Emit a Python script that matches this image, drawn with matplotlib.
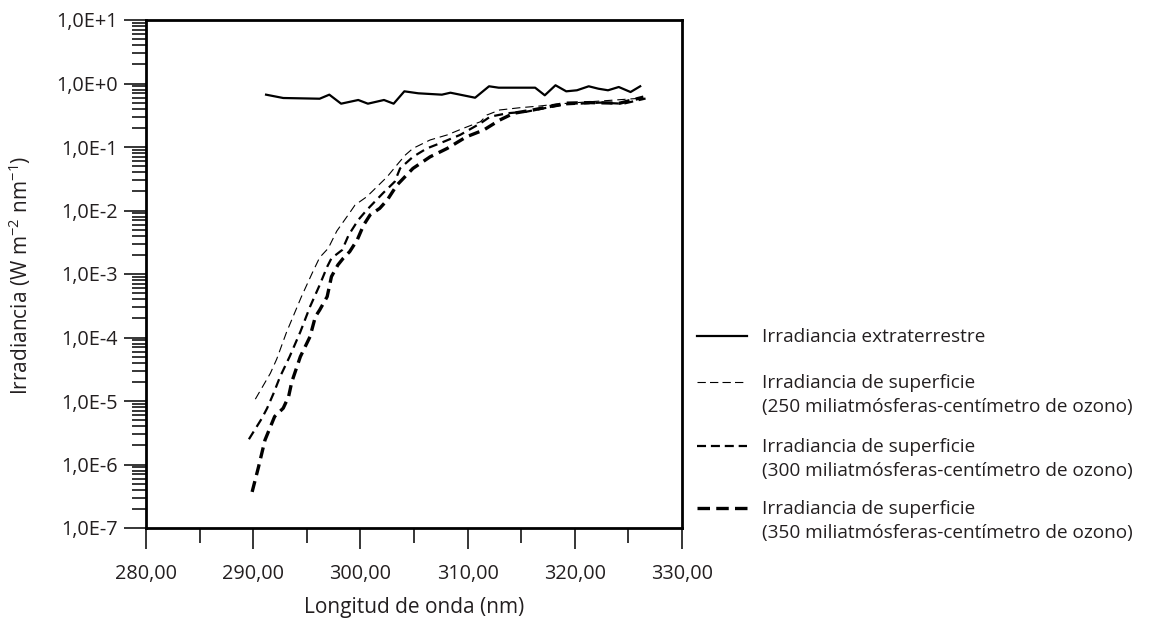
import math
import matplotlib
matplotlib.use("Agg")
import matplotlib.pyplot as plt
from matplotlib.lines import Line2D
from matplotlib.ticker import FixedLocator, FuncFormatter, LogLocator, NullFormatter

# Spectral irradiance data (wavelength in nm, irradiance in W m-2 nm-1)
wl_extra = [291.2, 292.8, 296.2, 297.1, 298.2, 299.8, 300.7, 302.2, 303.1, 304.1,
            305.4, 307.6, 308.4, 310.7, 312.0, 312.9, 316.3, 317.2, 318.2, 319.2,
            320.2, 321.3, 322.2, 323.1, 324.1, 325.2, 326.1]
irr_extra = [0.667, 0.591, 0.576, 0.667, 0.481, 0.550, 0.481, 0.550, 0.481, 0.753,
             0.701, 0.667, 0.716, 0.597, 0.904, 0.859, 0.859, 0.652, 0.938, 0.753,
             0.782, 0.904, 0.828, 0.782, 0.881, 0.734, 0.904]

wl_250 = [290.2, 291.6, 292.2, 293.1, 294.5, 295.5, 296.2, 297.0, 297.8, 299.0,
          299.5, 300.6, 302.5, 303.4, 304.2, 304.9, 306.5, 308.1, 309.6, 311.2,
          311.8, 313.0, 314.9, 316.8, 318.3, 322.4, 326.4]
irr_250 = [1.07e-5, 2.73e-5, 4.6e-5, 1.2e-4, 4.4e-4, 1.03e-3, 1.82e-3, 2.54e-3, 4.75e-3, 9.2e-3,
           1.22e-2, 1.65e-2, 3.4e-2, 5.2e-2, 7.5e-2, 9.5e-2, 0.129, 0.155, 0.197, 0.250,
           0.319, 0.383, 0.416, 0.443, 0.475, 0.53, 0.59]

wl_300 = [289.6, 290.8, 291.3, 291.9, 292.5, 293.4, 294.4, 295.3, 296.2, 296.9,
          297.3, 298.3, 298.9, 299.8, 300.6, 302.1, 303.2, 303.7, 304.9, 306.2,
          307.4, 309.3, 311.2, 312.1, 313.7, 315.5, 317.4, 319.2, 322.4, 324.5, 326.6]
irr_300 = [2.5e-6, 5.3e-6, 7.7e-6, 1.32e-5, 2.4e-5, 5.0e-5, 1.23e-4, 3.05e-4, 6.7e-4, 1.30e-3,
           1.77e-3, 2.39e-3, 4.1e-3, 7.1e-3, 1.02e-2, 1.87e-2, 2.84e-2, 4.6e-2, 7.0e-2, 9.5e-2,
           0.114, 0.155, 0.236, 0.300, 0.340, 0.360, 0.416, 0.47, 0.50, 0.48, 0.58]

wl_350 = [289.9, 290.5, 291.1, 292.0, 292.8, 293.3, 293.6, 294.4, 295.3, 295.8,
          296.2, 296.9, 297.3, 297.9, 298.4, 299.0, 299.7, 300.3, 300.9, 301.8,
          302.5, 303.4, 304.9, 306.5, 308.1, 309.9, 311.5, 313.0, 314.3, 316.1,
          319.2, 321.4, 324.2, 326.4]
irr_350 = [3.7e-7, 9.2e-7, 2.43e-6, 5.7e-6, 7.7e-6, 1.17e-5, 2.0e-5, 5.0e-5, 1.03e-4, 2.13e-4,
           2.71e-4, 4.4e-4, 9.1e-4, 1.39e-3, 1.77e-3, 2.25e-3, 3.43e-3, 5.9e-3, 8.5e-3, 1.08e-2,
           1.46e-2, 2.5e-2, 4.6e-2, 7.0e-2, 9.5e-2, 0.145, 0.185, 0.266, 0.340, 0.383,
           0.49, 0.50, 0.49, 0.61]

x_ticks = [280, 290, 300, 310, 320, 330]
x_minor = [285, 295, 305, 315, 325]
y_exponents = [1, 0, -1, -2, -3, -4, -5, -6, -7]

legend_labels = [
    "Irradiancia extraterrestre",
    "Irradiancia de superficie\n(250 miliatmósferas-centímetro de ozono)",
    "Irradiancia de superficie\n(300 miliatmósferas-centímetro de ozono)",
    "Irradiancia de superficie\n(350 miliatmósferas-centímetro de ozono)",
]

FONT = "Open Sans"
plt.rcParams["font.family"] = [FONT, "DejaVu Sans"]
plt.rcParams["mathtext.fontset"] = "custom"
plt.rcParams["mathtext.rm"] = FONT
plt.rcParams["mathtext.it"] = FONT
plt.rcParams["lines.scale_dashes"] = False
FS_LEG = 13.7
FS_TICK = 14.3
FS_LABEL = 15
TXT = "#231f20"

W, H = 1150, 624
fig = plt.figure(figsize=(W / 100, H / 100), dpi=100)
ax = fig.add_axes([146 / W, 1 - 528 / H, 536 / W, 508 / H])

styles = [
    dict(color="black", lw=1.6, ls="-"),
    dict(color="black", lw=0.8, dashes=(6, 3.5)),
    dict(color="black", lw=1.6, dashes=(6.5, 4)),
    dict(color="black", lw=2.4, dashes=(8, 4.5)),
]
series = [(wl_extra, irr_extra), (wl_250, irr_250), (wl_300, irr_300), (wl_350, irr_350)]
for (xs, ys), st in zip(series, styles):
    ax.plot(xs, ys, **st)

ax.set_yscale("log")
ax.set_xlim(280, 330)
ax.set_ylim(1e-7, 1e1)

ax.xaxis.set_major_locator(FixedLocator(x_ticks))
ax.xaxis.set_minor_locator(FixedLocator(x_minor))
ax.xaxis.set_major_formatter(FuncFormatter(lambda v, p: f"{v:.2f}".replace(".", ",")))
ax.yaxis.set_major_locator(FixedLocator([10.0 ** e for e in y_exponents]))
ax.yaxis.set_minor_locator(LogLocator(base=10, subs=range(2, 10), numticks=20))
ax.yaxis.set_minor_formatter(NullFormatter())
ax.yaxis.set_major_formatter(FuncFormatter(
    lambda v, p: "1,0E{:+d}".format(int(round(math.log10(v))))))

ax.tick_params(axis="x", which="major", direction="out", length=15, width=1.1,
               pad=11, labelsize=FS_TICK, labelcolor=TXT)
ax.tick_params(axis="x", which="minor", direction="out", length=11, width=1.1)
ax.tick_params(axis="y", which="major", direction="out", length=16, width=1.1,
               pad=4, labelsize=FS_TICK, labelcolor=TXT)
ax.tick_params(axis="y", which="minor", direction="out", length=10, width=1.1)

for sp in ax.spines.values():
    sp.set_linewidth(2.0)

ax.set_xlabel("Longitud de onda (nm)", fontsize=FS_LABEL, color=TXT)
ax.set_ylabel("Irradiancia (W m$^{-2}$ nm$^{-1}$)", fontsize=FS_LABEL, color=TXT)
ax.xaxis.set_label_coords(0.5, (528 - 607) / 508)
ax.yaxis.set_label_coords((20 - 146) / 536, (528 - 275) / 508)
ax.xaxis.label.set_va("center")
ax.yaxis.label.set_va("center")


def fpos(x, y):
    return x / W, 1 - y / H


legend_rows = [336, 382, 446, 508]
legend_handle_styles = [
    dict(color="black", lw=1.6, ls="-"),
    dict(color="black", lw=0.8, dashes=(6, 3)),
    dict(color="black", lw=1.6, dashes=(6.5, 3.5)),
    dict(color="black", lw=2.4, dashes=(9, 4.5)),
]
for ypix, label, st in zip(legend_rows, legend_labels, legend_handle_styles):
    x0, y0 = fpos(697, ypix)
    x1, _ = fpos(747, ypix)
    fig.add_artist(Line2D([x0, x1], [y0, y0], transform=fig.transFigure, **st))
    tx, ty = fpos(762, ypix - 8)
    fig.text(tx, ty, label, fontsize=FS_LEG, color=TXT, ha="left", va="top",
             linespacing=1.4)

fig.savefig("out.png", dpi=100)
